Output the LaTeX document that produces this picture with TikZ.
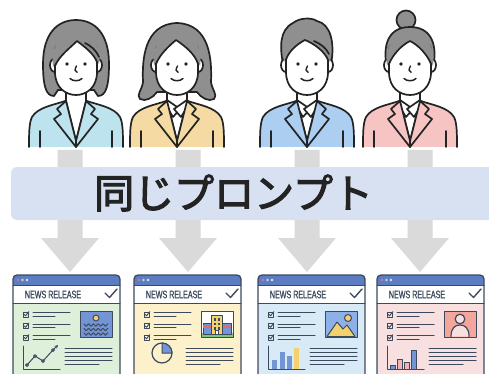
\documentclass[tikz,border=0pt]{standalone}
\usepackage{fontspec}
\setmainfont{Liberation Sans}
\newfontfamily\jpfont{Noto Sans CJK JP}[FakeBold=3]
\newfontfamily\cardfont{Liberation Sans}[FakeStretch=0.66, FakeBold=1]
\usetikzlibrary{arrows.meta}

\definecolor{ink}{HTML}{232323}
\definecolor{hairgray}{HTML}{8F8F8F}
\definecolor{suitA}{HTML}{BDE3EF}
\definecolor{suitB}{HTML}{F5DBA3}
\definecolor{suitC}{HTML}{ABCEF1}
\definecolor{suitD}{HTML}{F5C4C3}
\definecolor{arrowgray}{HTML}{DADADA}
\definecolor{bannerblue}{HTML}{D8E1F1}
\definecolor{frame}{HTML}{3D4A5E}
\definecolor{titlebar}{HTML}{5C7DC4}
\definecolor{cardA}{HTML}{DEEFDA}
\definecolor{cardB}{HTML}{FCF1CB}
\definecolor{cardC}{HTML}{D8EAF6}
\definecolor{cardD}{HTML}{F9E0E0}
\definecolor{picblue}{HTML}{7395D5}
\definecolor{skyblue}{HTML}{8DB0E6}
\definecolor{sunyellow}{HTML}{F4D06E}
\definecolor{salmon}{HTML}{F2A69C}
\definecolor{barpink}{HTML}{F3B3B0}
\definecolor{roofred}{HTML}{E46B6B}
\definecolor{grass}{HTML}{7CC47F}
\definecolor{dotpink}{HTML}{E56A9C}
\definecolor{dotgreen}{HTML}{B9E6A2}
\definecolor{dotlight}{HTML}{D9F0E6}

\tikzset{
  line/.style={draw=ink, line width=1.7pt, line join=round, line cap=round},
  fine/.style={draw=frame, line width=1pt, line join=round, line cap=round},
  bigarrow/.style={fill=arrowgray},
}

% jacket of one figure
\newcommand\figjacket[1]{%
  \fill[#1] (-11,101) .. controls (-22,105) and (-38,107) .. (-44,117)
     .. controls (-47,123) and (-47,134) .. (-47,147) -- (47,147)
     .. controls (47,134) and (47,123) .. (44,117)
     .. controls (38,107) and (22,105) .. (11,101) -- cycle;
  \draw[line] (-47,147) .. controls (-47,134) and (-47,123) .. (-44,117)
     .. controls (-38,107) and (-22,105) .. (-11,101);
  \draw[line] (47,147) .. controls (47,134) and (47,123) .. (44,117)
     .. controls (38,107) and (22,105) .. (11,101);
  \draw[line] (-36,131) -- (-36,147) (36,131) -- (36,147);
}
% neck, shirt, optional collar and lapels
\newcommand\figshirt[2]{%
  \filldraw[line, fill=white] (-10,84) -- (-10,101) -- (0,141) -- (10,101) -- (10,84);
  \ifnum#2=1
    \filldraw[line, fill=white] (-10,100) -- (3,109) -- (-4,117) -- (-12,104) -- cycle;
    \filldraw[line, fill=white] (10,100) -- (-3,109) -- (4,117) -- (12,104) -- cycle;
  \fi
  \filldraw[line, fill=#1] (-10,101) -- (-19,109) -- (-15,114) -- (-22,119) -- (0,147) -- (0,141) -- cycle;
  \filldraw[line, fill=#1] (10,101) -- (19,109) -- (15,114) -- (22,119) -- (0,147) -- (0,141) -- cycle;
}
% ears and face
\newcommand\figface{%
  \filldraw[line, fill=white] (-20,59) .. controls (-28,57) and (-28,73) .. (-20,72);
  \filldraw[line, fill=white] (20,59) .. controls (28,57) and (28,73) .. (20,72);
  \filldraw[line, fill=white] (-21,50) -- (-21,72) .. controls (-21,88) and (-10,95) .. (0,95)
     .. controls (10,95) and (21,88) .. (21,72) -- (21,50)
     .. controls (21,36) and (-21,36) .. (-21,50) -- cycle;
}
% eyes, nose and smile
\newcommand\figfeatures{%
  \fill[ink] (-9,64) circle (1.8) (9,64) circle (1.8);
  \draw[line, line width=1.4pt] (0.5,66) .. controls (-1.5,69.5) and (-1.5,72) .. (1.2,72.3);
  \draw[line, line width=1.5pt] (-6,78.5) .. controls (-3,81.5) and (3,81.5) .. (6,78.5);
}

% frame, header and list rows shared by all release cards
\newcommand\cardframe[2]{%
  \fill[titlebar, rounded corners=4] (0,0) rectangle (107,14);
  \fill[white] (0,10) rectangle (107,28);
  \fill[#2] (0,28) rectangle (107,112);
  \draw[frame, line width=1.3pt, rounded corners=4] (0,112) -- (0,0) -- (107,0) -- (107,112);
  \draw[fine] (0,10) -- (107,10) (0,28) -- (107,28);
  \fill[dotpink] (5,5) circle (1.4);
  \fill[dotgreen] (9.5,5) circle (1.4);
  \fill[dotlight] (14,5) circle (1.4);
  \node (#1) [font=\cardfont\fontsize{10.8}{11}\selectfont, text=frame, inner sep=0pt]
     at (40,19.5) {NEWS RELEASE};
  \draw[frame, line width=1.4pt, line cap=round, line join=round] (92,18) -- (96.5,22.5) -- (104,14);
  \foreach \r in {37,48.5,60} {
    \draw[fine, line width=0.9pt] (10,\r) rectangle (15,\r+5);
    \draw[fine, line width=0.9pt] (11.2,\r+2.4) -- (12.6,\r+3.8) -- (15.8,\r-0.4);
    \draw[fine] (20,\r+0.8) -- (57,\r+0.8);
    \draw[fine] (20,\r+4.3) -- (42,\r+4.3);
  }
  \foreach \r in {73,77,81,85} \draw[fine] (52,\r) -- (99,\r);
  \draw[fine] (52,89) -- (86,89);
}

\begin{document}
\begin{tikzpicture}[x=1pt, y=-1pt]
\useasboundingbox (0,0) rectangle (489,374);
\clip (0,0) rectangle (489,374);
\fill[white] (0,0) rectangle (489,374);

% ---- downward arrows behind the banner
\foreach \cx/\nm in {70/arrA, 188/arrB, 307/arrC, 420/arrD} {
  \fill[bigarrow] (\cx-12.5,150) -- (\cx+12.5,150) -- (\cx+12.5,238) -- (\cx+29,238)
     -- (\cx,272) -- (\cx-29,238) -- (\cx-12.5,238) -- cycle;
  \coordinate (\nm) at (\cx,272);
}

% ---- banner
\fill[bannerblue, rounded corners=6] (11,167) rectangle (500,220);
\node (prompt) [inner sep=0pt, text=ink] at (233.5,193)
  {\jpfont\fontsize{40}{44}\selectfont 同じプロンプト};

% ---- figure 1: bob with side part
\begin{scope}[shift={(76,0)}]
  \figjacket{suitA}
  \filldraw[line, fill=hairgray] (-22,96) .. controls (-30,96) and (-33,86) .. (-33,64)
     .. controls (-33,34) and (-19,20) .. (0,20) .. controls (19,20) and (33,34) .. (33,64)
     .. controls (33,86) and (30,96) .. (22,96) -- (18,90) -- (-18,90) -- cycle;
  \figshirt{suitA}{0}
  \figface
  \fill[hairgray] (-23,67) .. controls (-26,45) and (-14,32) .. (0,32)
     .. controls (14,32) and (26,45) .. (23,64) .. controls (18,54) and (9,47) .. (1,41)
     .. controls (-6,48) and (-17,56) .. (-23,67) -- cycle;
  \draw[line] (-21,66) .. controls (-17,56) and (-6,48) .. (1,41)
     .. controls (9,47) and (18,54) .. (21,62);
  \draw[line] (9,43) .. controls (15,46) and (20,50) .. (23,57);
  \figfeatures
\end{scope}

% ---- figure 2: wavy bob
\begin{scope}[shift={(177,0)}]
  \figjacket{suitB}
  \filldraw[line, fill=hairgray] (-20,92) .. controls (-24,98) and (-32,102) .. (-37,99)
     .. controls (-41,95) and (-35,90) .. (-34,82) .. controls (-35,60) and (-33,24) .. (0,23)
     .. controls (33,24) and (35,60) .. (34,82) .. controls (35,90) and (41,95) .. (37,99)
     .. controls (32,102) and (24,98) .. (20,92) -- cycle;
  \figshirt{suitB}{1}
  \figface
  \fill[hairgray] (-23,66) .. controls (-26,45) and (-14,32) .. (0,32)
     .. controls (14,32) and (26,45) .. (23,66) .. controls (18,54) and (8,46) .. (-1,40)
     .. controls (-8,46) and (-18,54) .. (-23,66) -- cycle;
  \draw[line] (-21,64) .. controls (-17,54) and (-8,46) .. (-1,40)
     .. controls (8,46) and (18,54) .. (21,64);
  \figfeatures
\end{scope}

% ---- figure 3: short hair
\begin{scope}[shift={(307,0)}]
  \figjacket{suitC}
  \filldraw[line, fill=hairgray] (-24,64) .. controls (-27,48) and (-28,30) .. (-14,23)
     .. controls (-8,18) and (4,17) .. (10,21) .. controls (24,24) and (28,44) .. (24,64) -- cycle;
  \figshirt{suitC}{1}
  \figface
  \fill[hairgray] (-23,62) .. controls (-26,45) and (-14,30) .. (0,30)
     .. controls (14,30) and (26,45) .. (23,62) .. controls (18,52) and (8,44) .. (-2,40)
     .. controls (-10,44) and (-19,52) .. (-23,62) -- cycle;
  \draw[line] (-21,60) .. controls (-19,52) and (-10,44) .. (-2,40)
     .. controls (8,44) and (18,52) .. (21,60);
  \draw[line] (7,41) .. controls (14,44) and (19,48) .. (22,54);
  \figfeatures
\end{scope}

% ---- figure 4: hair in a bun
\begin{scope}[shift={(410,0)}]
  \figjacket{suitD}
  \filldraw[line, fill=hairgray] (-4,20) circle (9.5);
  \filldraw[line, fill=hairgray] (-23,68) .. controls (-28,44) and (-21,27) .. (0,27)
     .. controls (21,27) and (28,44) .. (23,68) -- cycle;
  \figshirt{suitD}{1}
  \figface
  \fill[hairgray] (-23,66) .. controls (-26,45) and (-14,33) .. (0,33)
     .. controls (14,33) and (26,45) .. (23,66) .. controls (18,54) and (8,45) .. (0,41)
     .. controls (-8,45) and (-18,54) .. (-23,66) -- cycle;
  \draw[line] (-21,64) .. controls (-17,54) and (-8,45) .. (0,41)
     .. controls (8,45) and (17,54) .. (21,64);
  \figfeatures
\end{scope}

% ---- card 1: sea picture and line chart
\begin{scope}[shift={(13,275)}]
  \cardframe{titleA}{cardA}
  \filldraw[fine, fill=picblue] (67,36) rectangle (99,62);
  \filldraw[fine, fill=sunyellow] (83,43) circle (3);
  \foreach \w in {50,54.5,59}
    \draw[fine] plot[domain=71:95, samples=40, smooth] (\x, {\w + 1.1*sin(75*\x)});
  \draw[fine] (10,71) -- (10,94) -- (47,94);
  \draw[fine, -{Stealth[length=3.5pt, width=3.5pt]}] (14,90) -- (22,81) -- (30,86) -- (40,75) -- (45,70);
  \foreach \p in {(14,90),(22,81),(30,86),(40,75)}
    \filldraw[fine, fill=cardA] \p circle (1.4);
\end{scope}

% ---- card 2: buildings and pie chart
\begin{scope}[shift={(134,275)}]
  \cardframe{titleB}{cardB}
  \filldraw[fine, fill=white] (67,36) rectangle (99,62);
  \fill[grass] (67.5,58) rectangle (98.5,61.5);
  \filldraw[fine, fill=picblue] (69,48) rectangle (78,59);
  \fill[roofred] (69.4,50) rectangle (77.6,52.5);
  \filldraw[fine, fill=picblue] (88,48) rectangle (97,59);
  \fill[roofred] (88.4,50) rectangle (96.6,52.5);
  \filldraw[fine, fill=sunyellow] (77,40) rectangle (88,59);
  \foreach \yy in {43,47.5,52} {
    \fill[frame] (79.5,\yy) rectangle (81.5,\yy+2.5);
    \fill[frame] (83.5,\yy) rectangle (85.5,\yy+2.5);
  }
  \filldraw[fine, fill=white] (81,55) rectangle (84,59);
  \filldraw[fine, line width=1.2pt, fill=cardB] (28,78) circle (10);
  \filldraw[fine, fill=picblue] (28,78) -- (28,68) .. controls (33.5,68) and (38,72.5) .. (38,78) -- cycle;
\end{scope}

% ---- card 3: landscape picture and bar chart
\begin{scope}[shift={(258,275)}]
  \cardframe{titleC}{cardC}
  \filldraw[fine, fill=skyblue] (67,36) rectangle (99,62);
  \filldraw[fine, fill=sunyellow] (69,61.5) -- (79,47) -- (85,54) -- (89,50) -- (97,61.5) -- cycle;
  \filldraw[fine, fill=sunyellow] (90,43) circle (3.5);
  \draw[fine] (10,71) -- (10,94) -- (47,94);
  \fill[picblue] (14,85) rectangle (19,93.5);
  \fill[picblue] (22,77) rectangle (27,93.5);
  \fill[picblue] (29,81) rectangle (34,93.5);
  \fill[sunyellow] (36,73) rectangle (41,93.5);
\end{scope}

% ---- card 4: portrait picture and outlined bars
\begin{scope}[shift={(377,275)}]
  \cardframe{titleD}{cardD}
  \filldraw[fine, fill=salmon] (67,36) rectangle (99,62);
  \filldraw[fine, line width=1.2pt, fill=cardD] (74,61.5) .. controls (74,53) and (78,50) .. (83,50)
     .. controls (88,50) and (92,53) .. (92,61.5);
  \filldraw[fine, line width=1.2pt, fill=cardD] (83,44) circle (4.8);
  \draw[fine] (10,71) -- (10,94) -- (47,94);
  \filldraw[fine, fill=picblue] (13,90) rectangle (18,94);
  \filldraw[fine, fill=barpink] (20,84) rectangle (25,94);
  \filldraw[fine, fill=barpink] (27,87) rectangle (32,94);
  \filldraw[fine, fill=picblue] (34,75) rectangle (39,94);
\end{scope}
\end{tikzpicture}
\end{document}
